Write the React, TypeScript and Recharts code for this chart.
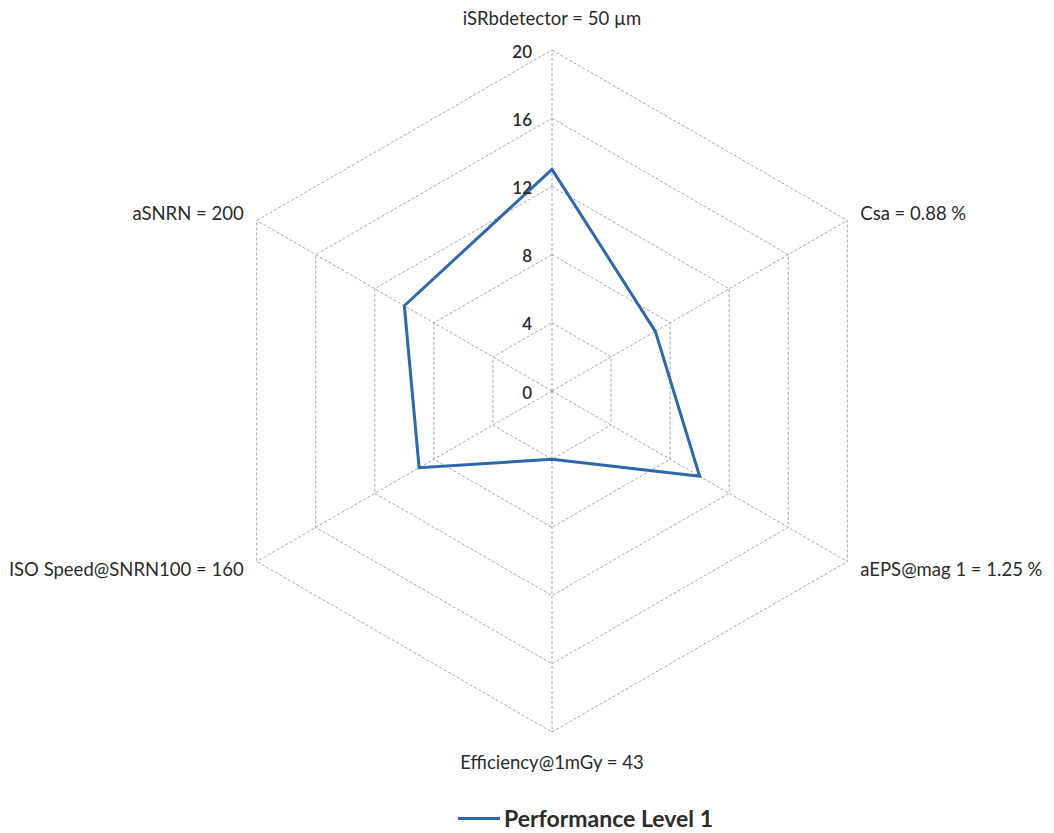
import {
  RadarChart,
  Radar,
  PolarGrid,
  PolarAngleAxis,
  PolarRadiusAxis,
  Legend,
} from "recharts";

const axisLabels = [
  "iSRbdetector = 50 µm",
  "Csa = 0.88 %",
  "aEPS@mag 1 = 1.25 %",
  "Efficiency@1mGy = 43",
  "ISO Speed@SNRN100 = 160",
  "aSNRN = 200",
];
const performanceLevel1 = [13, 7, 10, 4, 9, 10];
const radiusTicks = [0, 4, 8, 12, 16, 20];

const data = axisLabels.map((label, i) => ({
  label,
  level1: performanceLevel1[i],
}));

const FONT = "Lato, 'Noto Sans', sans-serif";
const LINE_COLOR = "#2e68ab";
const GRID_COLOR = "#a4a7b8";

const AngleTick = (props: any) => {
  const { x, y, textAnchor, payload } = props;
  const angle = payload.coordinate;
  let dy = 0;
  if (angle === 90) dy = -17;
  else if (angle === -90 || angle === 270) dy = 15;
  return (
    <text
      x={x}
      y={y + dy}
      textAnchor={textAnchor}
      dominantBaseline="central"
      fontFamily={FONT}
      fontSize={18.5}
      fill="#2b2b2b"
    >
      {payload.value}
    </text>
  );
};

const RadiusTick = (props: any) => {
  const { x, y, payload } = props;
  return (
    <text
      x={x - 20}
      y={y + 1}
      textAnchor="end"
      dominantBaseline="central"
      fontFamily={FONT}
      fontSize={17}
      fontWeight={600}
      fill="#2b2b2b"
    >
      {payload.value}
    </text>
  );
};

const LegendContent = () => (
  <div style={{ display: "flex", alignItems: "center", fontFamily: FONT }}>
    <span
      style={{
        display: "inline-block",
        width: 42,
        height: 3,
        background: LINE_COLOR,
        marginRight: 4,
      }}
    />
    <span style={{ fontSize: 23, fontWeight: 700, color: "#2b2b2b" }}>
      Performance Level 1
    </span>
  </div>
);

export default function App() {
  return (
    <div
      style={{
        position: "absolute",
        left: 0,
        top: 0,
        width: 1054,
        height: 833,
        background: "#fff",
      }}
    >
      <RadarChart
        width={1054}
        height={833}
        data={data}
        cx={552}
        cy={391}
        outerRadius={341}
        margin={{ top: 0, right: 0, bottom: 0, left: 0 }}
      >
        <PolarGrid
          gridType="polygon"
          stroke={GRID_COLOR}
          strokeDasharray="3 2"
        />
        <PolarAngleAxis
          dataKey="label"
          tick={AngleTick}
          tickLine={false}
          tickSize={15}
          axisLine={false}
        />
        <PolarRadiusAxis
          angle={90}
          domain={[0, 20]}
          ticks={radiusTicks as any}
          tick={RadiusTick}
          axisLine={false}
          tickLine={false}
        />
        <Radar
          name="Performance Level 1"
          dataKey="level1"
          stroke={LINE_COLOR}
          strokeWidth={3}
          fill="none"
          fillOpacity={0}
          dot={false}
          isAnimationActive={false}
        />
        <Legend
          content={LegendContent}
          wrapperStyle={{ left: 458, top: 804, width: 320 }}
        />
      </RadarChart>
    </div>
  );
}
